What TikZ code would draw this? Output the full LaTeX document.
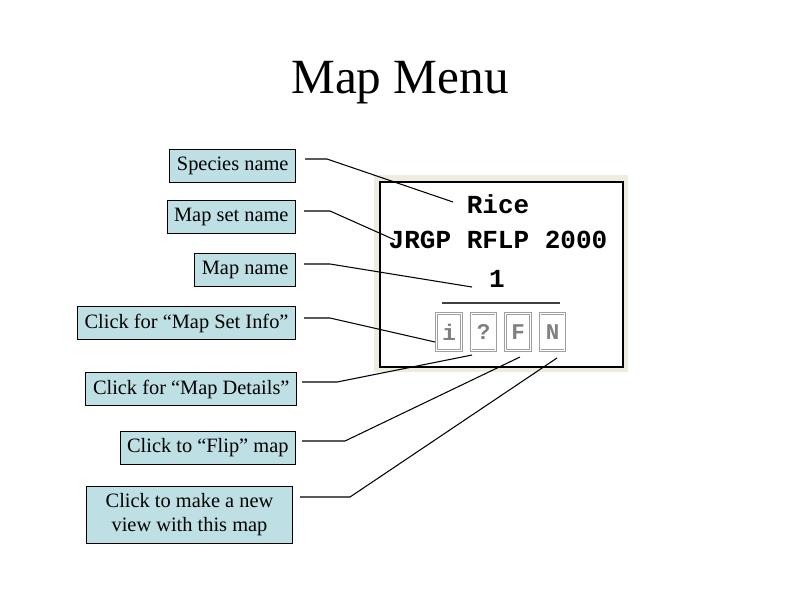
\documentclass[tikz,border=0pt]{standalone}
\usepackage{fontspec}
\setmainfont{Liberation Serif}
\newfontfamily\pixfont{Liberation Mono}
\definecolor{infofill}{RGB}{190,224,228}
\definecolor{mapback}{RGB}{238,236,222}

\begin{document}
\begin{tikzpicture}[x=0.025cm, y=-0.025cm,
  infobox/.style={draw, fill=infofill, line width=0.7pt, inner xsep=5pt,
    minimum height=0.825cm, anchor=east, font=\fontsize{14.5}{17}\selectfont},
  mapitem/.style={font=\pixfont\bfseries\fontsize{18.5}{20}\selectfont},
  button/.style={draw=gray!75, double=white, double distance=0.8pt,
    minimum width=0.62cm, minimum height=0.92cm, inner sep=0pt,
    text=gray, font=\pixfont\bfseries\fontsize{16}{18}\selectfont}]
  \useasboundingbox[fill=white] (0,0) rectangle (800,600);
  \node (title) at (400,83) {\fontsize{35}{40}\selectfont Map Menu};

  % the map menu itself
  \fill[mapback] (374,175) rectangle (628,372);
  \draw[fill=white, line width=2pt] (380,182) rectangle (623,367);
  \node[mapitem] (rice) at (498,204) {Rice};
  \node[mapitem] (mapset) at (498,240) {JRGP RFLP 2000};
  \node[mapitem] (mapno) at (497,279) {1};
  \draw[line width=1pt, black!75] (442,303) -- (560,303);
  \foreach \t [count=\i] in {i,?,F,N}
    \node[button] (b\i) at (414.5+34.5*\i,332) {\t};

  % the callouts
  \node[infobox] (species) at (296,166) {Species name};
  \node[infobox] (setname) at (296,217) {Map set name};
  \node[infobox] (mapname) at (296,270) {Map name};
  \node[infobox] (setinfo) at (296,323) {Click for ``Map Set Info''};
  \node[infobox] (details) at (297,389) {Click for ``Map Details''};
  \node[infobox] (flip) at (296,448) {Click to ``Flip'' map};
  \node[infobox, align=center, minimum width=5.15cm, minimum height=1.42cm]
    (newview) at (293,515) {Click to make a new\\view with this map};

  % Draw the pointers
  \foreach \i/\sx/\sy/\kx/\ex/\ey in {1/305/159/327/453/202, 2/304/211/330/395/240,
      3/304/264/330/472/287, 4/304/318/330/435/342, 5/302/382/337/472/355,
      6/302/441/345/520/357, 7/300/497/350/557/358} {
    \coordinate (s\i) at (\sx,\sy);
    \coordinate (k\i) at (\kx,\sy);
    \coordinate (e\i) at (\ex,\ey);
    \draw[line width=0.75pt] (s\i) -- (k\i) -- (e\i);
  }
\end{tikzpicture}
\end{document}
